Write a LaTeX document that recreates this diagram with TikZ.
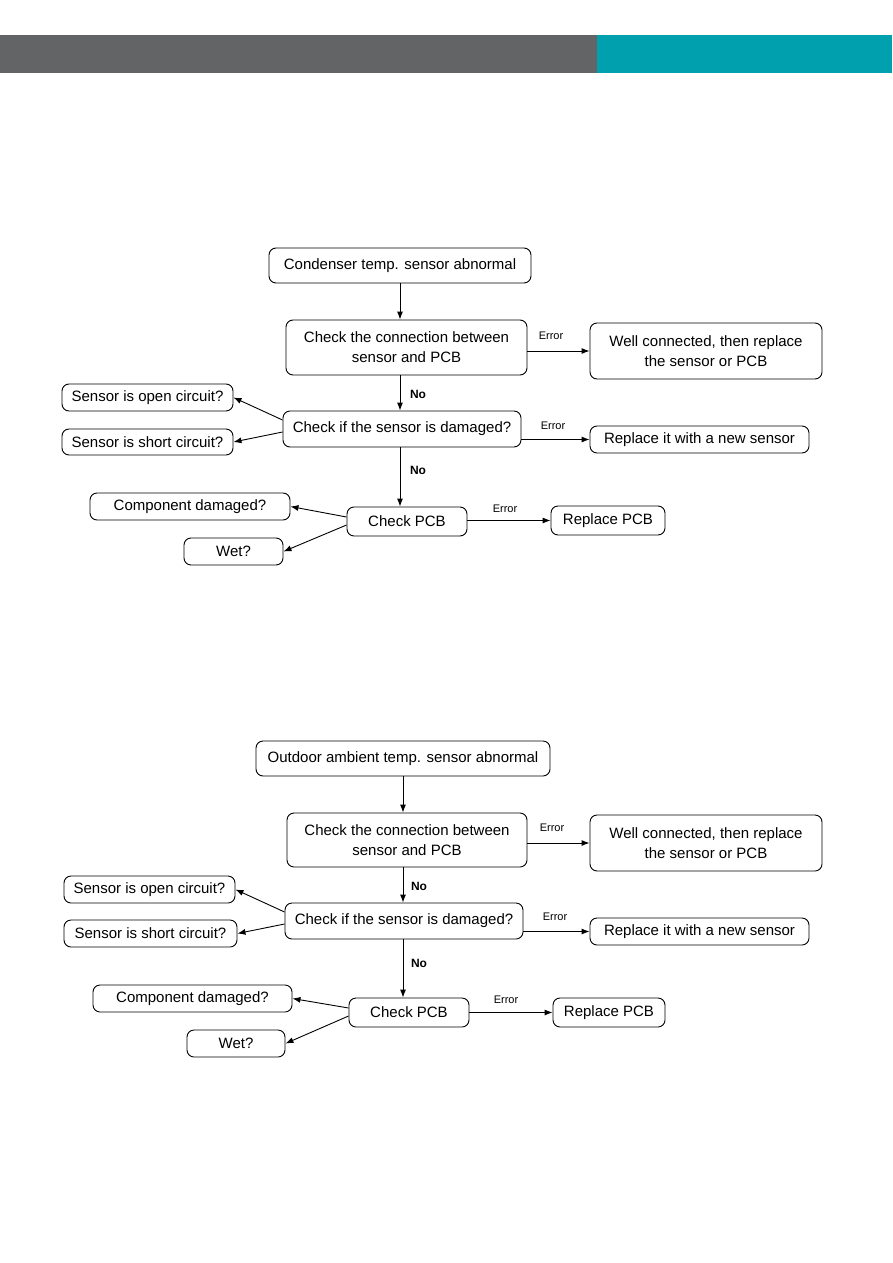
\documentclass[tikz,border=0pt]{standalone}
\usepackage{fontspec}
\setmainfont{Liberation Sans}
\usetikzlibrary{arrows.meta}

\definecolor{headgray}{HTML}{636466}
\definecolor{headteal}{HTML}{00A0AE}

\begin{document}
\begin{tikzpicture}[>={Latex[length=8pt, width=6pt]}, x=1pt, y=-1pt, line width=0.9pt,
  box/.style={draw, rounded corners=7pt, inner sep=0pt, align=center, font=\fontsize{15}{20}\selectfont},
  errlbl/.style={font=\fontsize{11}{13}\selectfont},
  nolbl/.style={font=\fontsize{12}{14}\selectfont\bfseries}]

\useasboundingbox (0, 0) rectangle (892, 1263);

% Header bar
\fill[headgray] (0, 35) rectangle (597, 73);
\fill[headteal] (597, 35) rectangle (892, 73);

% Condenser sensor chart
\node[box, minimum width=262pt, minimum height=35pt] (cstart) at (400, 265.5) {Condenser temp. sensor abnormal};
\node[box, minimum width=241pt, minimum height=55pt] (cconn) at (406.5, 347.5) {Check the connection between\\sensor and PCB};
\node[box, minimum width=232pt, minimum height=56pt] (cwell) at (706, 351) {Well connected, then replace\\the sensor or PCB};
\node[box, minimum width=238pt, minimum height=36pt] (csensor) at (402, 429) {Check if the sensor is damaged?};
\node[box, minimum width=219pt, minimum height=27pt] (cnew) at (699.5, 439.5) {Replace it with a new sensor};
\node[box, minimum width=171pt, minimum height=27pt] (copen) at (147.5, 397.5) {Sensor is open circuit?};
\node[box, minimum width=171pt, minimum height=26pt] (cshort) at (147.5, 442) {Sensor is short circuit?};
\node[box, minimum width=120pt, minimum height=29pt] (cpcb) at (407, 521.5) {Check PCB};
\node[box, minimum width=114pt, minimum height=29pt] (creplace) at (608, 520.5) {Replace PCB};
\node[box, minimum width=200pt, minimum height=27pt] (ccomp) at (190, 506.5) {Component damaged?};
\node[box, minimum width=99pt, minimum height=27pt] (cwet) at (233.5, 551.5) {Wet?};

% Labels
\node[errlbl] (cerr1) at (551, 336) {Error};
\node[errlbl] (cerr2) at (553, 426) {Error};
\node[errlbl] (cerr3) at (505, 509) {Error};
\node[nolbl] (cno1) at (418, 394) {No};
\node[nolbl] (cno2) at (418, 470) {No};

% Arrows
\draw[->] (cstart.south) -- (cstart.south |- cconn.north);
\draw[->] (cconn.south -| cstart.south) -- (csensor.north -| cstart.south);
\draw[->] (csensor.south -| cstart.south) -- (cpcb.north -| cstart.south);
\draw[->] (cconn.east |- cwell.west) -- (cwell.west);
\draw[->] (csensor.east |- cnew.west) -- (cnew.west);
\draw[->] (cpcb.east |- creplace.west) -- (creplace.west);
\draw[->] ([yshift=9pt]csensor.west) -- (copen.east);
\draw[->] ([yshift=-3pt]csensor.west) -- (cshort.east);
\draw[->] ([yshift=4.5pt]cpcb.west) -- (ccomp.east);
\draw[->] ([yshift=-3.5pt]cpcb.west) -- (cwet.east);

% Outdoor sensor chart
\node[box, minimum width=294pt, minimum height=35pt] (ostart) at (403, 758.5) {Outdoor ambient temp. sensor abnormal};
\node[box, minimum width=240pt, minimum height=54pt] (oconn) at (407, 840) {Check the connection between\\sensor and PCB};
\node[box, minimum width=232pt, minimum height=56pt] (owell) at (706, 843) {Well connected, then replace\\the sensor or PCB};
\node[box, minimum width=238pt, minimum height=36pt] (osensor) at (404, 921) {Check if the sensor is damaged?};
\node[box, minimum width=219pt, minimum height=27pt] (onew) at (699.5, 931.5) {Replace it with a new sensor};
\node[box, minimum width=171pt, minimum height=27pt] (oopen) at (149.5, 889.5) {Sensor is open circuit?};
\node[box, minimum width=173pt, minimum height=27pt] (oshort) at (150.5, 933.5) {Sensor is short circuit?};
\node[box, minimum width=120pt, minimum height=29pt] (opcb) at (409, 1012.5) {Check PCB};
\node[box, minimum width=112pt, minimum height=29pt] (oreplace) at (609, 1012.5) {Replace PCB};
\node[box, minimum width=199pt, minimum height=27pt] (ocomp) at (192.5, 998.5) {Component damaged?};
\node[box, minimum width=98pt, minimum height=27pt] (owet) at (236, 1043.5) {Wet?};

% Labels
\node[errlbl] (oerr1) at (552, 828) {Error};
\node[errlbl] (oerr2) at (555, 917) {Error};
\node[errlbl] (oerr3) at (506, 1000) {Error};
\node[nolbl] (ono1) at (419, 886) {No};
\node[nolbl] (ono2) at (419, 963) {No};

% Arrows
\draw[->] (ostart.south) -- (ostart.south |- oconn.north);
\draw[->] (oconn.south -| ostart.south) -- (osensor.north -| ostart.south);
\draw[->] (osensor.south -| ostart.south) -- (opcb.north -| ostart.south);
\draw[->] (oconn.east |- owell.west) -- (owell.west);
\draw[->] (osensor.east |- onew.west) -- (onew.west);
\draw[->] (opcb.east |- oreplace.west) -- (oreplace.west);
\draw[->] ([yshift=9pt]osensor.west) -- (oopen.east);
\draw[->] ([yshift=-3pt]osensor.west) -- (oshort.east);
\draw[->] ([yshift=4.5pt]opcb.west) -- (ocomp.east);
\draw[->] ([yshift=-3.5pt]opcb.west) -- (owet.east);

\end{tikzpicture}
\end{document}
